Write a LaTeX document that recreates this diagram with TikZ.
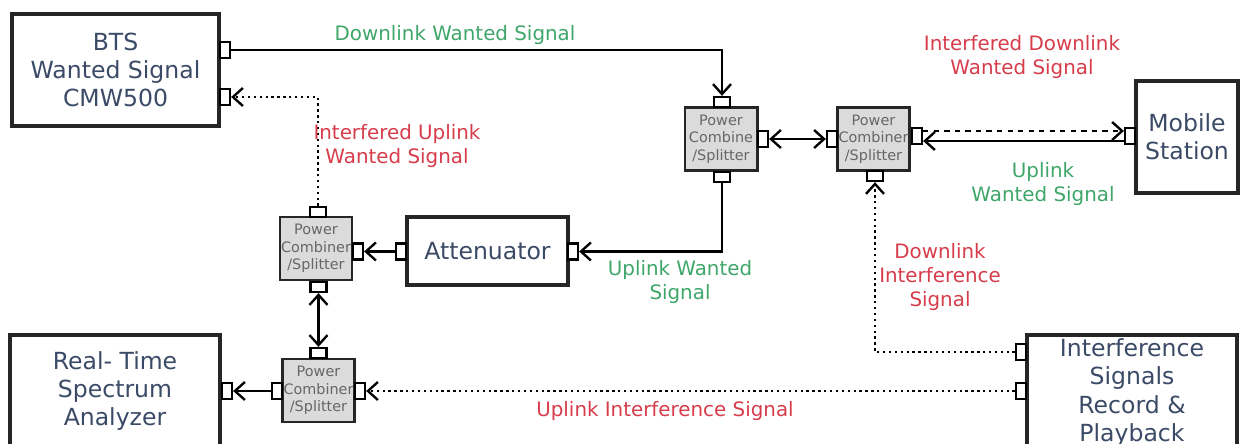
\documentclass[tikz,border=0pt]{standalone}
\usepackage{fontspec}
\setmainfont{DejaVu Sans}
\usepackage{tikz}
\usetikzlibrary{arrows.meta, positioning}
\usepackage{xcolor}
\definecolor{boxtext}{HTML}{3B4A66}
\definecolor{sigup}{HTML}{3FA66A}
\definecolor{sigbad}{HTML}{D63C4A}

\begin{document}
\begin{tikzpicture}[
    x=0.2mm, y=-0.2mm,
    unit/.style={rectangle, draw=black!85, line width=1.9pt, fill=white,
                 align=center, text=boxtext, inner sep=1pt,
                 font=\fontsize{13.4}{16}\selectfont},
    pcs/.style={rectangle, draw=black!85, line width=1.7pt, fill=gray!28,
                minimum width=1.44cm, minimum height=1.26cm, inner sep=0pt,
                align=center, text=black!60,
                font=\fontsize{8.2}{10}\selectfont},
    porth/.style={rectangle, draw=black, line width=1.3pt, fill=white,
                  minimum width=0.2cm, minimum height=0.32cm, inner sep=0pt},
    portv/.style={porth, minimum width=0.32cm, minimum height=0.2cm},
    lbl/.style={align=center, font=\fontsize{11.3}{13.6}\selectfont},
    good/.style={lbl, text=sigup},
    bad/.style={lbl, text=sigbad},
    sig/.style={line width=1.35pt, -{Straight Barb[length=2mm, width=3.6mm]}},
    sigb/.style={sig, {Straight Barb[length=2mm, width=3.6mm]}-{Straight Barb[length=2mm, width=3.6mm]}},
]
  \useasboundingbox (0,0) rectangle (1241,444);

  % Instruments
  \node[unit, minimum width=4.14cm, minimum height=2.24cm] (bts) at (115.5, 70)
    {BTS\\Wanted Signal\\CMW500};
  \node[unit, minimum width=4.2cm, minimum height=2.24cm] (rtsa) at (115, 391)
    {Real- Time\\Spectrum\\Analyzer};
  \node[unit, minimum width=2.04cm, minimum height=2.24cm] (ms) at (1187, 137)
    {Mobile\\Station};
  \node[unit, minimum width=3.22cm, minimum height=1.36cm] (att) at (487.5, 251)
    {Attenuator};
  \node[unit, minimum width=4.2cm, minimum height=2.3cm] (intf) at (1132, 392.5)
    {Interference\\Signals\\Record \&\\Playback};

  % Power combiners
  \node[pcs] (pc1) at (721, 139)   {Power\\Combine\\/Splitter};
  \node[pcs] (pc2) at (873.5, 139) {Power\\Combiner\\/Splitter};
  \node[pcs] (pc3) at (316, 248.5) {Power\\Combiner\\/Splitter};
  \node[pcs] (pc4) at (318.5, 390.5) {Power\\Combiner\\/Splitter};

  % Ports
  \node[porth] (bts-p1) at (225, 50) {};
  \node[porth] (bts-p2) at (225, 97) {};
  \node[portv] (pc1-t) at (722, 102) {};
  \node[porth] (pc1-r) at (763, 139) {};
  \node[portv] (pc1-b) at (722, 177) {};
  \node[porth] (pc2-l) at (832, 139) {};
  \node[porth] (pc2-r) at (917, 136) {};
  \node[portv] (pc2-b) at (875, 176) {};
  \node[porth] (ms-p) at (1130, 136) {};
  \node[porth] (att-l) at (401, 251.5) {};
  \node[porth] (att-r) at (573, 251.5) {};
  \node[portv] (pc3-t) at (318, 212) {};
  \node[porth] (pc3-r) at (358, 251.5) {};
  \node[portv] (pc3-b) at (318.5, 287) {};
  \node[portv] (pc4-t) at (318.5, 353) {};
  \node[porth] (pc4-l) at (277, 391) {};
  \node[porth] (pc4-r) at (360, 391) {};
  \node[porth] (rtsa-p) at (227, 391) {};
  \node[porth] (intf-p1) at (1021, 352) {};
  \node[porth] (intf-p2) at (1021, 391) {};

  % Signal paths
  \draw[sig] (bts-p1.east) -| (pc1-t.north);
  \draw[sigb] (pc1-r.east) -- (pc2-l.west);
  \draw[sig, dashed] ([yshift=0.1cm]pc2-r.east) -- ([yshift=0.1cm]ms-p.west);
  \draw[sig] ([yshift=-0.1cm]ms-p.west) -- ([yshift=-0.1cm]pc2-r.east);
  \draw[sig] (pc1-b.south) |- (att-r.east);
  \draw[sig] (att-l.west) -- (pc3-r.east);
  \draw[sig, dotted] (pc3-t.north) |- (bts-p2.east);
  \draw[sigb] (pc3-b.south) -- (pc4-t.north);
  \draw[sig] (pc4-l.west) -- (rtsa-p.east);
  \draw[sig, dotted] (intf-p2.west) -- (pc4-r.east);
  \draw[sig, dotted] (intf-p1.west) -| (pc2-b.south);

  % Labels
  \node[good] (l-dlw) at (455, 35) {Downlink Wanted Signal};
  \node[bad]  (l-idw) at (1022, 57) {Interfered Downlink\\Wanted Signal};
  \node[good] (l-ulw) at (1043, 184) {Uplink\\Wanted Signal};
  \node[bad]  (l-iuw) at (397, 146) {Interfered Uplink\\Wanted Signal};
  \node[good] (l-ulw2) at (680, 282) {Uplink Wanted\\Signal};
  \node[bad]  (l-dli) at (940, 277) {Downlink\\Interference\\Signal};
  \node[bad]  (l-uli) at (665, 411) {Uplink Interference Signal};
\end{tikzpicture}
\end{document}
